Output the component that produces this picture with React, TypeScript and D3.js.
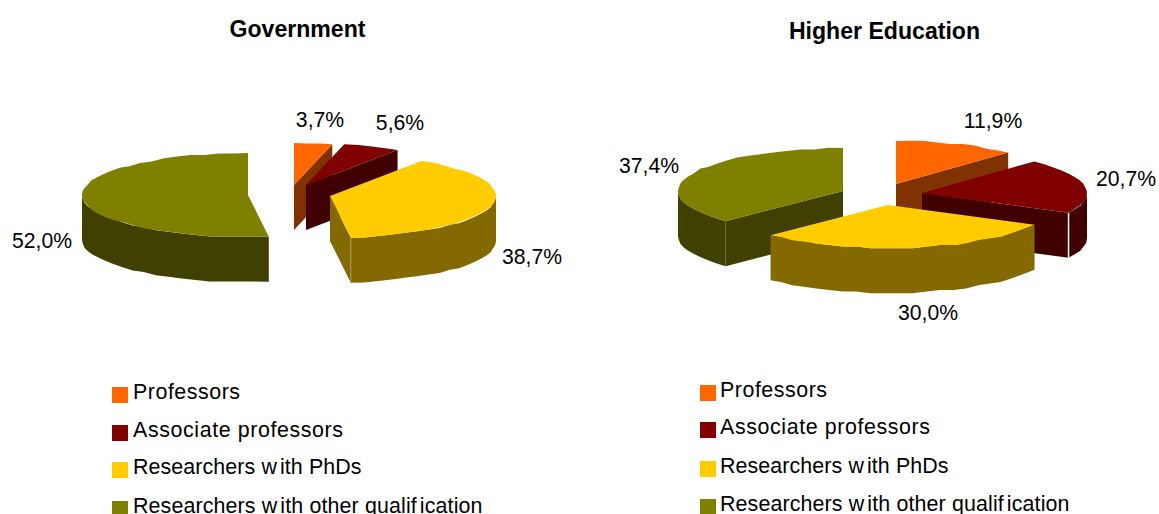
import React from "react";
import * as d3 from "d3";

const categories = ["Professors", "Associate professors", "Researchers with PhDs", "Researchers with other qualification"];
const governmentValues = [3.7, 5.6, 38.7, 52.0];
const higherEducationValues = [11.9, 20.7, 30.0, 37.4];
const topColors = ["#ff6600", "#800000", "#ffcc00", "#808000"];
const sideColors = ["#803300", "#400000", "#846900", "#404000"];
const legendTextWidths = [107, 210, 228.5, 349.5];

const pieLayout = d3.pie<number>().sort(null).startAngle(0).endAngle(2 * Math.PI);
const fmt = (v: number) => v.toFixed(1).replace(".", ",") + "%";

type Pt = [number, number];
type PieCfg = {
  values: number[];
  rx: number; ry: number; depth: number;
  centers: Pt[];
  order: number[];
  labels: Pt[];
};

const snap = (v: number, g: number) => Math.round(v / g) * g;

function arcPts(c: Pt, rx: number, ry: number, a0: number, a1: number, dy = 0): Pt[] {
  const stepCount = Math.max(1, Math.round(Math.abs(a1 - a0) / (5 * Math.PI / 180)));
  const t = d3.scaleLinear().domain([0, stepCount]).range([a0, a1]);
  return d3.range(stepCount + 1).map((i) => {
    const a = t(i);
    const x = rx * Math.sin(a);
    const y = -ry * Math.cos(a);
    const exact = i === 0 || i === stepCount;
    return [c[0] + x, c[1] + (exact ? y : snap(y, 1.6)) + dy] as Pt;
  });
}

const line = d3.line<Pt>();

function Pie3D({ cfg }: { cfg: PieCfg }) {
  const arcs = pieLayout(cfg.values);
  const { rx, ry, depth } = cfg;
  return (
    <g>
      {cfg.order.map((i) => {
        const s = arcs[i];
        const c = cfg.centers[i];
        const a0 = s.startAngle, a1 = s.endAngle;
        const pt = (a: number): Pt => [c[0] + rx * Math.sin(a), c[1] - ry * Math.cos(a)];
        const wall0 = Math.max(a0, Math.PI / 2);
        const wall1 = Math.min(a1, (3 * Math.PI) / 2);
        const top = arcPts(c, rx, ry, a0, a1);
        const faces: Pt[][] = [];
        const addFace = (a: number) => {
          const e = pt(a);
          faces.push([c, e, [e[0], e[1] + depth], [c[0], c[1] + depth]]);
        };
        if (a1 < Math.PI) addFace(a1);
        if (a0 > Math.PI) addFace(a0);
        const walls: Pt[] = wall1 > wall0
          ? [...arcPts(c, rx, ry, wall0, wall1), ...arcPts(c, rx, ry, wall0, wall1, depth).reverse()]
          : [];
        const endPt = pt(a1);
        return (
          <g key={i}>
            {faces.map((f, k) => (
              <path key={k} d={line(f) + "Z"} fill={sideColors[i]} />
            ))}
            {walls.length > 0 && <path d={line(walls) + "Z"} fill={sideColors[i]} />}
            {walls.length > 0 && a1 < Math.PI && (
              <line x1={endPt[0]} y1={endPt[1]} x2={endPt[0]} y2={endPt[1] + depth} stroke={i === 1 ? "#ffffff" : "#b09a50"} strokeWidth={i === 1 ? 1.5 : 1} />
            )}
            <path d={line([c, ...top]) + "Z"} fill={topColors[i]} />
          </g>
        );
      })}
      {cfg.values.map((v, i) => (
        <text key={i} x={cfg.labels[i][0]} y={cfg.labels[i][1]} textAnchor="middle" fontSize={21.2} fill="#000">
          {fmt(v)}
        </text>
      ))}
    </g>
  );
}

function LegendText({ text, x, y, width }: { text: string; x: number; y: number; width: number }) {
  // The source renders small gaps after the "w" of "with" and the "f" of "qualification"
  const parts = text.split(/(?<=\bw)(?=ith)|(?<=qualif)(?=ication)/);
  return (
    <text x={x} y={y} fontSize={21.4} fill="#000" textLength={width} lengthAdjust="spacing">
      {parts.map((p, i) => (
        <tspan key={i} dx={i === 0 ? 0 : 3}>{p}</tspan>
      ))}
    </text>
  );
}

function Legend({ x, swatchY, textY, textX }: { x: number; swatchY: number[]; textY: number[]; textX: number }) {
  return (
    <g>
      {categories.map((c, i) => (
        <g key={c}>
          <rect x={x} y={swatchY[i]} width={16} height={16} fill={topColors[i]} />
          <LegendText text={c} x={textX} y={textY[i]} width={legendTextWidths[i]} />
        </g>
      ))}
    </g>
  );
}

const government: PieCfg = {
  values: governmentValues,
  rx: 166, ry: 42, depth: 45,
  centers: [[294, 185], [306, 185], [330, 196], [248, 195]],
  order: [0, 1, 3, 2],
  labels: [[320, 127], [400, 130], [532, 264], [42, 248]],
};

const higher: PieCfg = {
  values: higherEducationValues,
  rx: 165, ry: 43, depth: 45,
  centers: [[896, 184], [922, 193], [888, 205], [843, 191]],
  order: [0, 1, 3, 2],
  labels: [[993, 128], [1126, 186], [928, 320], [649, 173]],
};

export default function App() {
  return (
    <svg width={1159} height={514} viewBox="0 0 1159 514"
      style={{ position: "absolute", left: 0, top: 0, display: "block", background: "#fff" }}
      fontFamily="'Liberation Sans', Arial, sans-serif">
      <text x={297.5} y={37} textAnchor="middle" fontWeight="bold" fontSize={23.1}>Government</text>
      <text x={884.5} y={39} textAnchor="middle" fontWeight="bold" fontSize={23.1}>Higher Education</text>
      <Pie3D cfg={government} />
      <Pie3D cfg={higher} />
      <Legend x={112} textX={133} swatchY={[387, 425, 462, 501]} textY={[399, 437, 474, 513]} />
      <Legend x={700} textX={720} swatchY={[385, 422, 461, 499]} textY={[397, 434, 473, 511]} />
    </svg>
  );
}
